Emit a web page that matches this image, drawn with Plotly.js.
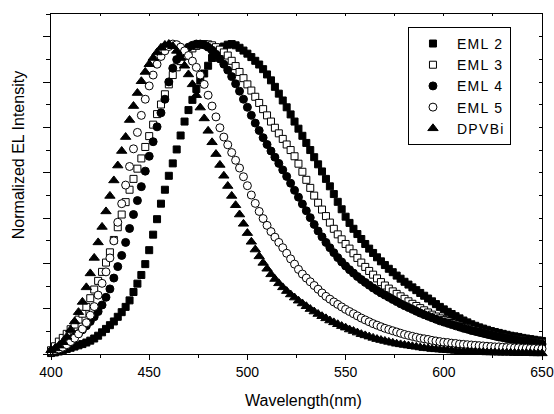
<!DOCTYPE html>
<html>
<head>
<meta charset="utf-8">
<script src="https://cdn.plot.ly/plotly-3.0.1.min.js"></script>
<style>html,body{margin:0;padding:0;background:#fff;} .legendtext{letter-spacing:1.3px;}</style>
</head>
<body>
<div id="chart" style="width:554px;height:414px;"></div>
<script>
const wavelength = [400,402,404,406,408,410,412,414,416,418,420,422,424,426,428,430,432,434,436,438,440,442,444,446,448,450,452,454,456,458,460,462,464,466,468,470,472,474,476,478,480,482,484,486,488,490,492,494,496,498,500,502,504,506,508,510,512,514,516,518,520,522,524,526,528,530,532,534,536,538,540,542,544,546,548,550,552,554,556,558,560,562,564,566,568,570,572,574,576,578,580,582,584,586,588,590,592,594,596,598,600,602,604,606,608,610,612,614,616,618,620,622,624,626,628,630,632,634,636,638,640,642,644,646,648,650];

const eml2 = [0.003,0.005,0.008,0.012,0.016,0.020,0.024,0.028,0.032,0.037,
0.043,0.050,0.059,0.070,0.081,0.093,0.105,0.120,0.135,0.152,
0.173,0.200,0.227,0.255,0.290,0.335,0.385,0.435,0.485,0.530,
0.575,0.615,0.660,0.705,0.750,0.787,0.820,0.855,0.882,0.905,
0.930,0.955,0.970,0.982,0.992,0.998,1.000,0.996,0.988,0.979,
0.969,0.958,0.946,0.934,0.919,0.902,0.883,0.862,0.840,0.818,
0.796,0.773,0.750,0.727,0.704,0.681,0.658,0.635,0.612,0.589,
0.565,0.541,0.516,0.491,0.467,0.443,0.423,0.404,0.387,0.371,
0.355,0.340,0.326,0.312,0.299,0.287,0.275,0.264,0.253,0.243,
0.233,0.224,0.215,0.206,0.197,0.188,0.179,0.170,0.161,0.152,
0.144,0.136,0.129,0.122,0.115,0.108,0.102,0.096,0.091,0.086,
0.082,0.078,0.074,0.071,0.068,0.065,0.062,0.059,0.057,0.055,
0.052,0.050,0.048,0.046,0.044,0.042];

const eml3 = [0.012,0.025,0.040,0.052,0.065,0.080,0.095,0.111,0.130,0.152,
0.180,0.208,0.236,0.265,0.295,0.328,0.368,0.409,0.450,0.490,
0.530,0.565,0.598,0.631,0.668,0.703,0.740,0.774,0.805,0.838,
0.870,0.900,0.925,0.945,0.962,0.976,0.986,0.994,0.998,1.000,
0.999,0.996,0.990,0.982,0.973,0.963,0.946,0.929,0.910,0.890,
0.870,0.850,0.830,0.810,0.790,0.770,0.750,0.730,0.712,0.694,
0.676,0.658,0.638,0.614,0.588,0.562,0.536,0.511,0.488,0.466,
0.445,0.424,0.404,0.386,0.370,0.355,0.340,0.325,0.310,0.295,
0.281,0.268,0.256,0.244,0.232,0.221,0.211,0.202,0.194,0.186,
0.178,0.170,0.162,0.155,0.148,0.141,0.134,0.127,0.121,0.115,
0.110,0.105,0.100,0.095,0.091,0.087,0.083,0.079,0.075,0.071,
0.068,0.065,0.062,0.059,0.056,0.054,0.052,0.050,0.048,0.046,
0.044,0.042,0.040,0.039,0.037,0.036];

const eml4 = [0.006,0.012,0.022,0.032,0.041,0.048,0.056,0.066,0.078,0.091,
0.105,0.120,0.137,0.158,0.183,0.210,0.245,0.282,0.318,0.360,
0.405,0.450,0.495,0.540,0.590,0.638,0.685,0.733,0.778,0.822,
0.878,0.922,0.950,0.968,0.980,0.990,0.996,1.000,1.000,0.997,
0.990,0.980,0.967,0.952,0.935,0.916,0.895,0.872,0.848,0.822,
0.796,0.770,0.745,0.721,0.698,0.676,0.655,0.635,0.615,0.594,
0.573,0.551,0.528,0.506,0.484,0.462,0.440,0.418,0.397,0.378,
0.360,0.343,0.327,0.311,0.297,0.284,0.272,0.261,0.250,0.240,
0.231,0.222,0.213,0.205,0.197,0.190,0.183,0.176,0.169,0.162,
0.156,0.150,0.144,0.138,0.132,0.127,0.122,0.117,0.112,0.107,
0.103,0.099,0.095,0.091,0.087,0.083,0.080,0.076,0.073,0.070,
0.067,0.064,0.061,0.058,0.055,0.053,0.050,0.048,0.046,0.044,
0.042,0.040,0.038,0.036,0.034,0.032];

const eml5 = [0.008,0.012,0.016,0.022,0.030,0.040,0.051,0.065,0.081,0.101,
0.125,0.153,0.190,0.228,0.265,0.310,0.365,0.425,0.485,0.545,
0.605,0.662,0.715,0.770,0.822,0.865,0.900,0.935,0.960,0.978,
0.992,1.000,0.998,0.990,0.978,0.963,0.945,0.925,0.900,0.870,
0.835,0.800,0.765,0.730,0.700,0.675,0.650,0.625,0.600,0.572,
0.543,0.513,0.486,0.460,0.437,0.415,0.395,0.377,0.360,0.343,
0.325,0.307,0.290,0.273,0.258,0.245,0.233,0.221,0.209,0.197,
0.186,0.177,0.168,0.160,0.152,0.144,0.137,0.130,0.123,0.116,
0.110,0.104,0.098,0.093,0.088,0.083,0.079,0.075,0.071,0.067,
0.063,0.060,0.057,0.054,0.051,0.049,0.047,0.044,0.042,0.040,
0.038,0.037,0.035,0.034,0.032,0.031,0.030,0.029,0.028,0.027,
0.026,0.025,0.024,0.023,0.023,0.022,0.021,0.021,0.020,0.020,
0.019,0.019,0.018,0.018,0.017,0.017];

const dpvbi = [0.012,0.018,0.027,0.038,0.055,0.078,0.105,0.135,0.168,0.215,
0.260,0.310,0.360,0.410,0.460,0.510,0.560,0.608,0.655,0.700,
0.755,0.800,0.842,0.880,0.910,0.935,0.955,0.973,0.988,0.997,
1.000,0.993,0.978,0.955,0.930,0.902,0.870,0.835,0.795,0.760,
0.720,0.683,0.645,0.610,0.575,0.542,0.510,0.480,0.450,0.420,
0.390,0.362,0.337,0.315,0.294,0.275,0.257,0.242,0.228,0.215,
0.203,0.192,0.182,0.172,0.163,0.154,0.145,0.137,0.129,0.122,
0.115,0.108,0.102,0.096,0.090,0.085,0.079,0.074,0.069,0.064,
0.060,0.056,0.052,0.048,0.045,0.042,0.039,0.036,0.033,0.031,
0.029,0.027,0.025,0.023,0.021,0.019,0.018,0.016,0.015,0.014,
0.013,0.012,0.011,0.010,0.009,0.008,0.008,0.007,0.007,0.006,
0.006,0.005,0.005,0.005,0.004,0.004,0.004,0.004,0.003,0.003,
0.003,0.003,0.003,0.002,0.002,0.002];

const seriesNames = ['EML 2','EML 3','EML 4','EML 5','DPVBi'];
const seriesData = [eml2, eml3, eml4, eml5, dpvbi];
const symbols = ['square','square','circle','circle','triangle-up'];
const fills = ['#000','#fff','#000','#fff','#000'];
const sizes = [7,7,8,8,9];

const xTicks = [400,450,500,550,600,650];

const traces = seriesNames.map((n,i)=>({
  type:'scatter', mode:'markers', name:n, x:wavelength, y:seriesData[i],
  marker:{symbol:symbols[i], size:sizes[i], color:fills[i], line:{color:'#000', width:1}},
  cliponaxis:false
}));
traces.push({type:'scatter', mode:'markers', x:[], y:[], xaxis:'x2', yaxis:'y2', showlegend:false, hoverinfo:'skip'});

const yTop = 1.097;
const yStep = yTop/15;
const ax = {showgrid:false, zeroline:false, showline:true, linecolor:'#000', linewidth:1, tickcolor:'#000', tickwidth:1};

const layout = {
  width:554, height:414,
  margin:{l:51, r:12, t:14, b:60, pad:0},
  paper_bgcolor:'#fff', plot_bgcolor:'#fff',
  font:{family:'Liberation Sans, Arial, sans-serif', size:14, color:'#000'},
  showlegend:true,
  legend:{x:0.727, y:0.962, xanchor:'left', yanchor:'top', bordercolor:'#000', borderwidth:1,
          bgcolor:'#fff', font:{size:14, color:'#000'}, tracegroupgap:0, itemwidth:38},
  xaxis:Object.assign({}, ax, {range:[400,650], tickvals:xTicks, ticktext:xTicks.map(String), ticks:'outside', ticklen:5,
          minor:{dtick:25, tick0:400, ticks:'outside', ticklen:3, tickcolor:'#000', showgrid:false}, tickfont:{size:14}}),
  yaxis:Object.assign({}, ax, {range:[0,yTop], tick0:0, dtick:2*yStep, ticks:'outside', ticklen:7, showticklabels:false,
          minor:{dtick:yStep, tick0:0, ticks:'outside', ticklen:4, tickcolor:'#000', showgrid:false}}),
  xaxis2:Object.assign({}, ax, {overlaying:'x', side:'top', anchor:'y2', range:[400,650], tick0:400, dtick:25, ticks:'inside', ticklen:2, showticklabels:false}),
  yaxis2:Object.assign({}, ax, {overlaying:'y', side:'right', anchor:'x2', range:[0,yTop], tick0:0, dtick:yStep, ticks:'inside', ticklen:3, showticklabels:false}),
  annotations:[
    {text:'Wavelength(nm)', xref:'paper', yref:'paper', x:0.515, y:-0.138, showarrow:false, xanchor:'center', yanchor:'middle', font:{size:16}},
    {text:'Normalized EL Intensity', xref:'paper', yref:'paper', x:-0.067, y:0.585, showarrow:false, textangle:-90, xanchor:'center', yanchor:'middle', font:{size:16}}
  ]
};

Plotly.newPlot('chart', traces, layout, {displayModeBar:false, staticPlot:true});
</script>
</body>
</html>
